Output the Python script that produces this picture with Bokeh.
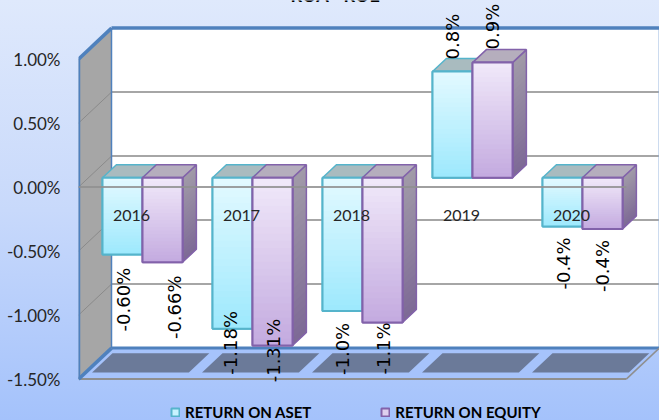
from bokeh.plotting import figure
from bokeh.embed import file_html
from bokeh.resources import INLINE
from bokeh.core.properties import value
from bokeh.models import FixedTicker, PrintfTickFormatter, Legend, LegendItem, Label, Range1d, LinearAxis
import math

years = ["2016", "2017", "2018", "2019", "2020"]
roa = [-0.60, -1.18, -1.04, 0.83, -0.38]
roe = [-0.66, -1.31, -1.13, 0.90, -0.40]
roa_labels = ["-0.60%", "-1.18%", "-1.0%", "0.8%", "-0.4%"]
roe_labels = ["-0.66%", "-1.31%", "-1.1%", "0.9%", "-0.4%"]
y_ticks = [1.0, 0.5, 0.0, -0.5, -1.0, -1.5]
series_names = ["RETURN ON ASET", "RETURN ON EQUITY"]
title_text = "ROA - ROE"

# layout constants (screen offsets of the rotated value labels, in px)
roa_shift = [(1, 45), (-2, 14), (0, 38), (0, -35), (1, 37)]
roe_shift = [(12, 45), (1, 5), (1, 26), (0, -36), (0, 37)]
W, H = 659, 420
LEFT = 78
PX_X, PX_Y = 110.0, 128.0           # px per category, px per 1%
Y_TOP, Y_BOTTOM = 1.0, -1.5
X_L, X_R = -0.5, 4.48
DX, DY = 0.30, 31 / PX_Y            # floor depth in data units
BAR_W = 40 / PX_X
BAR_SHIFT = -0.008
B0, B1 = 0.30, 0.72                 # depth of bar front and rear
FLOOR_BLUE = "#a6c3fb"
FRAME = "#4f81bd"
GRID = "#a6a6a6"


def proj(x, y, d):
    return x + DX * d, y + DY * d


def lerp(c1, c2, t):
    a = [int(c1[i:i + 2], 16) for i in (1, 3, 5)]
    b = [int(c2[i:i + 2], 16) for i in (1, 3, 5)]
    return "#%02x%02x%02x" % tuple(round(a[k] + (b[k] - a[k]) * t) for k in range(3))


p = figure(width=W, height=H, output_backend="svg", toolbar_location=None,
           x_range=Range1d(-0.5, -0.5 + (W - LEFT) / PX_X),
           y_range=Range1d(Y_BOTTOM - 41.4 / PX_Y, Y_TOP + 58.6 / PX_Y),
           x_axis_location=None, y_axis_location=None,
           min_border_left=LEFT, min_border_right=0, min_border_top=0, min_border_bottom=0)
p.styles = {"position": "fixed", "left": "0", "top": "0",
            "background": "linear-gradient(180deg,#dfe9fc 0%,#c8d9fb 50%,#a4c2fb 100%)"}
p.border_fill_color = None
p.background_fill_color = None
p.outline_line_color = None
p.grid.visible = False

axis = LinearAxis(ticker=FixedTicker(ticks=y_ticks),
                  formatter=PrintfTickFormatter(format="%.2f%%"))
axis.axis_line_color = None
axis.major_tick_line_color = None
axis.minor_tick_line_color = None
axis.major_tick_out = 0
axis.major_label_standoff = 18
axis.major_label_text_font = "Lato"
axis.major_label_text_font_size = "17px"
axis.major_label_text_color = "#262626"
p.add_layout(axis, "left")


def poly(corners, **kw):
    xs, ys = zip(*corners)
    return p.patch(list(xs), list(ys), **kw)


def seg(a, b, color, width, alpha=1.0):
    p.line([a[0], b[0]], [a[1], b[1]], line_color=color, line_width=width, line_alpha=alpha)


# back wall
poly([proj(X_L, Y_BOTTOM, 1), proj(X_R, Y_BOTTOM, 1), proj(X_R, Y_TOP, 1), proj(X_L, Y_TOP, 1)],
     fill_color="#ffffff", line_color=None)
# side wall
poly([proj(X_L, Y_BOTTOM, 0), proj(X_L, Y_BOTTOM, 1), proj(X_L, Y_TOP, 1), proj(X_L, Y_TOP, 0)],
     fill_color=GRID, line_color=None)
# floor
poly([proj(X_L, Y_BOTTOM, 0), proj(X_R, Y_BOTTOM, 0), proj(X_R, Y_BOTTOM, 1), proj(X_L, Y_BOTTOM, 1)],
     fill_color=FLOOR_BLUE, line_color=None)
# bar shadows on floor
for i in range(len(years)):
    poly([proj(i - 0.44, Y_BOTTOM, 0.21), proj(i + 0.44, Y_BOTTOM, 0.21),
          proj(i + 0.44, Y_BOTTOM, 0.83), proj(i - 0.44, Y_BOTTOM, 0.83)],
         fill_color="#6b7a99", line_color=None)
# gridlines
for t in y_ticks[1:-1]:
    seg(proj(X_L, t, 1), proj(X_R, t, 1), GRID, 2)
    seg(proj(X_L, t, 0), proj(X_L, t, 1), "#8a8a8a", 1)
# frame
seg(proj(X_R, Y_TOP, 1), proj(X_R, Y_BOTTOM, 1), "#8fb0dc", 1.5)
seg(proj(X_L, Y_TOP, 1), proj(X_L, Y_BOTTOM, 1), FRAME, 1.5)
seg(proj(X_L, Y_BOTTOM, 1), proj(X_R, Y_BOTTOM, 1), FRAME, 3)
seg(proj(X_L, Y_BOTTOM, 0), proj(X_R, Y_BOTTOM, 0), "#8f8f8f", 2)
seg(proj(X_R, Y_BOTTOM, 0), proj(X_R, Y_BOTTOM, 1), "#8f8f8f", 1.5)
seg(proj(X_L, Y_TOP, 1), proj(X_R, Y_TOP, 1), FRAME, 3.5)
seg(proj(X_L, Y_TOP, 0), proj(X_L, Y_TOP, 1), FRAME, 3.5)
seg(proj(X_L, Y_BOTTOM, 0), proj(X_L, Y_BOTTOM, 1), FRAME, 3.5)
seg(proj(X_L, Y_TOP, 0), proj(X_L, Y_BOTTOM, 0), FRAME, 3.5)

STYLES = [
    dict(top="#e2f9ff", bottom="#9ee9fd", line="#55b4cb", roof="#a9bbbf", side0="#a09aa8", side1="#7e6a96"),
    dict(top="#f0e8f9", bottom="#c4abe0", line="#8262aa", roof="#b5aebd", side0="#a09aa8", side1="#7e6a96"),
]
SLICES = 24
legend_items = []


def draw_bar(x0, v, st):
    x1 = x0 + BAR_W
    hi, lo = max(v, 0.0), min(v, 0.0)
    # right side face, gradient: each slice overlaps the next so no seams show
    for k in range(SLICES):
        a = hi + (lo - hi) * k / SLICES
        b = hi + (lo - hi) * min(k + 2, SLICES) / SLICES
        c = lerp(st["side0"], st["side1"], k / (SLICES - 1))
        poly([proj(x1, a, B0), proj(x1, a, B1), proj(x1, b, B1), proj(x1, b, B0)],
             fill_color=c, line_color=None)
    out = [proj(x1, hi, B0), proj(x1, hi, B1), proj(x1, lo, B1), proj(x1, lo, B0)]
    poly(out, fill_color=None, line_color=st["line"], line_width=1.5)
    # roof
    poly([proj(x0, hi, B0), proj(x1, hi, B0), proj(x1, hi, B1), proj(x0, hi, B1)],
         fill_color=st["roof"], line_color=st["line"], line_width=1.5)
    # front face, gradient
    fx0, y_hi = proj(x0, hi, B0)
    fx1, y_lo = proj(x1, lo, B0)
    under = p.quad(left=[fx0], right=[fx1], top=[y_hi], bottom=[y_lo],
                   fill_color=lerp(st["top"], st["bottom"], 0.4), line_color=st["line"], line_width=2)
    for k in range(SLICES):
        a = y_hi + (y_lo - y_hi) * k / SLICES
        b = y_hi + (y_lo - y_hi) * min(k + 2, SLICES) / SLICES
        p.quad(left=[fx0], right=[fx1], top=[a], bottom=[b],
               fill_color=lerp(st["top"], st["bottom"], k / (SLICES - 1)), line_color=None)
    p.quad(left=[fx0], right=[fx1], top=[y_hi], bottom=[y_lo],
           fill_color=None, line_color=st["line"], line_width=2)
    return under


for i in range(len(years)):
    r0 = draw_bar(i - BAR_W + BAR_SHIFT, roa[i], STYLES[0])
    r1 = draw_bar(i + BAR_SHIFT, roe[i], STYLES[1])
    if i == 0:
        legend_items = [LegendItem(label=series_names[0], renderers=[r0]),
                        LegendItem(label=series_names[1], renderers=[r1])]

# front zero line, drawn across the bars
seg(proj(X_L, 0, 0), proj(X_R, 0, 0), "#8f8f8f", 2, 0.85)

# category labels
p.text(x=list(range(len(years))), y=[-0.22] * len(years), text=years, x_offset=-2,
       text_font=value("Lato"), text_font_size=value("16px"), text_color="#262626",
       text_align="center", text_baseline="middle")


def value_labels(offset, vals, labels, shifts):
    xs, ys = [], []
    for i, v in enumerate(vals):
        x, y = proj(i + offset, v, B0)
        xs.append(x)
        ys.append(y)
    p.text(x=xs, y=ys, text=labels, angle=math.pi / 2,
           x_offset=[s[0] for s in shifts], y_offset=[s[1] for s in shifts],
           text_font=value("DejaVu Sans"), text_font_size=value("18px"), text_color="#000000",
           text_align="center", text_baseline="middle")


value_labels(-BAR_W / 2 + BAR_SHIFT, roa, roa_labels, roa_shift)
value_labels(BAR_W / 2 + BAR_SHIFT, roe, roe_labels, roe_shift)

legend = Legend(items=legend_items, orientation="horizontal", location=(92, -1),
                background_fill_alpha=0, border_line_color=None,
                padding=0, margin=0, spacing=69, label_standoff=5,
                glyph_width=10, glyph_height=10, label_height=14,
                label_text_font="Lato", label_text_font_size="15px",
                label_text_font_style="bold", label_text_color="#000000")
p.add_layout(legend)

p.add_layout(Label(x=335 - LEFT, y=H - 5, x_units="screen", y_units="screen", text=title_text,
                   text_align="center", text_baseline="bottom", text_font="Lato",
                   text_font_style="bold", text_font_size="18px", text_color="#000000"))

open("out.html", "w").write(file_html(p, INLINE))
